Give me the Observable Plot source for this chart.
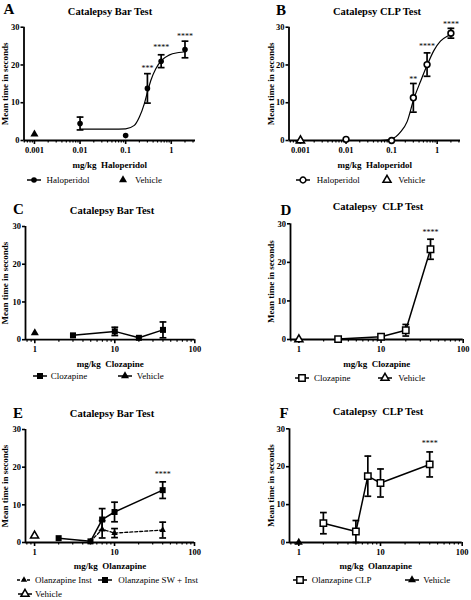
<!DOCTYPE html>
<html><head><meta charset="utf-8">
<script src="https://cdn.jsdelivr.net/npm/d3@7"></script>
<script src="https://cdn.jsdelivr.net/npm/@observablehq/plot@0.6"></script>
<style>
body{margin:0;background:#fff;}
#fig{position:relative;width:471px;height:600px;font-family:"Liberation Serif","Times New Roman",serif;color:#000;overflow:hidden;}
.abs{position:absolute;white-space:nowrap;line-height:1;}
.ttl{font-weight:bold;font-size:10.5px;transform:translate(-50%,-50%);}
.let{font-weight:bold;font-size:15px;transform:translate(-50%,-50%);}
.leg{font-size:9px;transform:translateY(-50%);}
</style></head><body><div id="fig"></div>
<script>
// ---------- DATA ----------
// Panel A: Catalepsy Bar Test, Haloperidol
const aDose = [0.01, 0.1, 0.3, 0.6, 2];
const aMean = [4.5, 1.3, 13.8, 21.0, 24.1];
const aSem  = [1.7, 0, 3.9, 1.7, 2.2];
const aVehDose = [0.001];
const aVehMean = [1.7];
const aFitDose = [0.01, 0.05, 0.1, 0.155, 0.2, 0.256, 0.3, 0.356, 0.458, 0.638, 0.89, 1.47, 2];
const aFitVal  = [3.0, 3.0, 3.1, 4.0, 6.2, 9.7, 12.8, 15.9, 19.0, 21.4, 22.6, 23.3, 23.5];
const aStarDose = [0.3, 0.6, 2];
const aStarY = [19.6, 25.2, 28.1];
const aStars = ["***", "****", "****"];

// Panel B: Catalepsy CLP Test, Haloperidol
const bDose = [0.01, 0.1, 0.3, 0.6, 2];
const bMean = [0.3, 0, 11.3, 20.1, 28.4];
const bSem  = [0, 0, 3.8, 3.1, 1.3];
const bVehDose = [0.001];
const bVehMean = [0];
const bFitDose = [0.01, 0.057, 0.1, 0.156, 0.219, 0.307, 0.43, 0.6, 0.845, 1.18, 1.66, 2.1];
const bFitVal  = [0, 0, 0.4, 2.2, 5.0, 11.0, 15.6, 19.9, 23.8, 26.3, 27.6, 28.1];
const bStarDose = [0.3, 0.6, 2];
const bStarY = [16.8, 25.4, 31.3];
const bStars = ["**", "****", "****"];

// Panel C: Catalepsy Bar Test, Clozapine
const cDose = [3, 10, 20, 40];
const cMean = [1.15, 2.2, 0.5, 2.6];
const cSem  = [0, 1.1, 0, 2.1];
const cVehDose = [1];
const cVehMean = [1.8];

// Panel D: Catalepsy CLP Test, Clozapine
const dDose = [3, 10, 20, 40];
const dMean = [0.1, 0.7, 2.4, 23.4];
const dSem  = [0, 0, 1.5, 2.6];
const dVehDose = [1];
const dVehMean = [0];
const dStarDose = [40];
const dStarY = [28.4];
const dStars = ["****"];

// Panel E: Catalepsy Bar Test, Olanzapine
const eSwDose = [2, 5, 7, 10, 40];
const eSwMean = [1.15, 0.3, 6.1, 8.1, 13.9];
const eSwSem  = [0, 0, 2.9, 2.6, 2.2];
const eInDose = [5, 7, 10, 40];
const eInMean = [0.3, 3.5, 2.5, 3.3];
const eInSem  = [0, 2.3, 1.2, 2.1];
const eVehDose = [1];
const eVehMean = [1.8];
const eStarDose = [40];
const eStarY = [18.6];
const eStars = ["****"];

// Panel F: Catalepsy CLP Test, Olanzapine
const fDose = [2, 5, 7, 10, 40];
const fMean = [5.1, 2.9, 17.5, 15.7, 20.6];
const fSem  = [2.8, 2.9, 5.3, 3.7, 3.3];
const fVehDose = [1];
const fVehMean = [0];
const fStarDose = [40];
const fStarY = [26.7];
const fStars = ["****"];

// Axis ticks
const yTicks = [0, 10, 20, 30];
const halMajor = [0.001, 0.01, 0.1, 1];
const mgMajor = [1, 10, 100];
const minorSteps = [2, 3, 4, 5, 6, 7, 8, 9];
const yTitle = "Mean time in seconds";

// ---------- HELPERS ----------
const fig = document.getElementById("fig");
const rows = (d, m, s) => d.map((x, i) => ({dose: x, mean: m[i], sem: s ? s[i] : 0, lo: m[i] - (s ? s[i] : 0), hi: m[i] + (s ? s[i] : 0)}));
const fit = (d, v) => d.map((x, i) => ({dose: x, val: v[i]}));
const stars = (d, y, t) => d.map((x, i) => ({dose: x, y: y[i], t: t[i]}));
const minorTicks = (decades, lo, hi) => decades.flatMap(p => minorSteps.map(k => k * p)).filter(v => v > lo && v < hi);
const cap = {draw(ctx, size) { const w = Math.sqrt(size / Math.PI); ctx.moveTo(-w, 0); ctx.lineTo(w, 0); }};

function errMarks(data) {
  const e = data.filter(d => d.sem > 0);
  return [
    Plot.ruleX(e, {x: "dose", y1: "lo", y2: "hi", stroke: "black", strokeWidth: 1.7}),
    Plot.dot(e, {x: "dose", y: "lo", symbol: cap, r: 3.4, stroke: "black", strokeWidth: 1.7, fill: "none"}),
    Plot.dot(e, {x: "dose", y: "hi", symbol: cap, r: 3.4, stroke: "black", strokeWidth: 1.7, fill: "none"})
  ];
}

function panel(cfg) {
  const minor = minorTicks(cfg.decades, cfg.xDomain[0], cfg.xDomain[1]);
  const svg = Plot.plot({
    width: cfg.width, height: 175,
    marginLeft: cfg.ml, marginRight: cfg.mr, marginTop: cfg.mt, marginBottom: cfg.mb,
    style: {fontFamily: '"Liberation Serif","Times New Roman",serif', fontWeight: "bold", color: "black", background: "transparent", overflow: "visible", position: "absolute", left: cfg.left + "px", top: cfg.top + "px"},
    x: {type: "log", domain: cfg.xDomain},
    y: {domain: [0, 30]},
    marks: [
      Plot.axisY({ticks: yTicks, tickSize: 3, tickPadding: 1.5, strokeWidth: 1.6, fontSize: 8.5, label: null}),
      Plot.axisY({ticks: [], tickSize: 0, label: yTitle, labelAnchor: "center", labelArrow: "none", labelOffset: cfg.ylo, fontSize: 9}),
      Plot.axisX({ticks: cfg.major, tickSize: 4, tickPadding: 2, strokeWidth: 1.6, tickFormat: d => String(d), fontSize: 8.5, label: null}),
      Plot.axisX({ticks: minor, tickSize: 2.5, strokeWidth: 1.2, tickFormat: () => "", label: null}),
      Plot.axisX({ticks: [], tickSize: 0, label: cfg.xLabel, labelAnchor: "center", labelArrow: "none", labelOffset: cfg.xlo, fontSize: 9}),
      Plot.ruleY([0], {stroke: "black", strokeWidth: 1.8}),
      Plot.ruleX([cfg.xDomain[0]], {stroke: "black", strokeWidth: 1.8}),
      ...cfg.marks,
      cfg.stars ? Plot.text(cfg.stars, {x: "dose", y: "y", text: "t", fontSize: 8, fontWeight: "normal", dy: 2}) : null
    ]
  });
  fig.appendChild(svg);
  addText(cfg.letter, "let", cfg.letterPos);
  addText(cfg.title, "ttl", cfg.titlePos);
  cfg.legend.forEach(addLegend);
}

function addText(txt, cls, [x, y]) {
  const d = document.createElement("div");
  d.className = "abs " + cls;
  d.style.left = x + "px"; d.style.top = y + "px";
  d.textContent = txt;
  fig.appendChild(d);
}

const symMap = {circle: d3.symbolCircle, square: d3.symbolSquare, triangle: d3.symbolTriangle};
function addLegend(it) {
  const s = d3.create("svg").attr("width", 20).attr("height", 12)
    .style("position", "absolute").style("left", (it.cx - 10) + "px").style("top", (it.cy - 6) + "px").style("overflow", "visible");
  if (it.line) s.append("line").attr("x1", 3).attr("x2", 17).attr("y1", 6).attr("y2", 6)
    .attr("stroke", "black").attr("stroke-width", 1.5).attr("stroke-dasharray", it.dash ? "3,2" : null);
  s.append("path").attr("transform", "translate(10,6)")
    .attr("d", d3.symbol(symMap[it.sym], it.r * it.r * Math.PI)())
    .attr("fill", it.open ? "white" : "black").attr("stroke", "black").attr("stroke-width", it.open ? 1.5 : 0);
  fig.appendChild(s.node());
  const t = document.createElement("div");
  t.className = "abs leg";
  t.style.left = it.tx + "px"; t.style.top = it.cy + "px";
  t.textContent = it.label;
  fig.appendChild(t);
}

// ---------- PANELS ----------
const A = rows(aDose, aMean, aSem), Av = rows(aVehDose, aVehMean);
panel({
  left: 0, top: 0, width: 235, ml: 23.5, mr: 40, mt: 26.7, mb: 35,
  xDomain: [0.00059, 3.4], major: halMajor, decades: [0.0001, 0.001, 0.01, 0.1, 1],
  xLabel: "mg/kg\u00a0 Haloperidol", xlo: 27.5, ylo: 22.4,
  letter: "A", letterPos: [9, 9], title: "Catalepsy Bar Test", titlePos: [110, 12],
  marks: [
    Plot.line(fit(aFitDose, aFitVal), {x: "dose", y: "val", curve: "monotone-x", strokeWidth: 1.2}),
    ...errMarks(A),
    Plot.dot(A, {x: "dose", y: "mean", symbol: "circle", r: 2.8, fill: "black"}),
    Plot.dot(Av, {x: "dose", y: "mean", symbol: "triangle", r: 3, fill: "black"})
  ],
  stars: stars(aStarDose, aStarY, aStars),
  legend: [
    {cx: 34, cy: 180, tx: 46.5, label: "Haloperidol", sym: "circle", r: 2.8, line: true},
    {cx: 123.3, cy: 180, tx: 135, label: "Vehicle", sym: "triangle", r: 3, line: false}
  ]
});

const B = rows(bDose, bMean, bSem), Bv = rows(bVehDose, bVehMean);
panel({
  left: 235, top: 0, width: 236, ml: 53.5, mr: 11, mt: 26.7, mb: 35,
  xDomain: [0.00056, 3.25], major: halMajor, decades: [0.0001, 0.001, 0.01, 0.1, 1],
  xLabel: "mg/kg\u00a0 Haloperidol", xlo: 27.5, ylo: 21.4,
  letter: "B", letterPos: [281, 10], title: "Catalepsy CLP Test", titlePos: [377, 12],
  marks: [
    Plot.line(fit(bFitDose, bFitVal), {x: "dose", y: "val", curve: "monotone-x", strokeWidth: 1.2}),
    ...errMarks(B),
    Plot.dot(B, {x: "dose", y: "mean", symbol: "circle", r: 2.9, fill: "white", stroke: "black", strokeWidth: 1.6}),
    Plot.dot(Bv, {x: "dose", y: "mean", symbol: "triangle", r: 3, fill: "white", stroke: "black", strokeWidth: 1.6})
  ],
  stars: stars(bStarDose, bStarY, bStars),
  legend: [
    {cx: 303.3, cy: 180, tx: 316.7, label: "Haloperidol", sym: "circle", r: 2.9, open: true, line: true},
    {cx: 386.7, cy: 180, tx: 398.3, label: "Vehicle", sym: "triangle", r: 3, open: true, line: false}
  ]
});

const C = rows(cDose, cMean, cSem), Cv = rows(cVehDose, cVehMean);
panel({
  left: 0, top: 200, width: 235, ml: 25, mr: 40.7, mt: 26, mb: 35.8,
  xDomain: [0.765, 100], major: mgMajor, decades: [0.1, 1, 10],
  xLabel: "mg/kg\u00a0 Clozapine", xlo: 27, ylo: 23.9,
  letter: "C", letterPos: [18.5, 208.5], title: "Catalepsy Bar Test", titlePos: [112, 211],
  marks: [
    Plot.line(C, {x: "dose", y: "mean", strokeWidth: 1.5}),
    ...errMarks(C),
    Plot.dot(C, {x: "dose", y: "mean", symbol: "square", r: 3.4, fill: "black"}),
    Plot.dot(Cv, {x: "dose", y: "mean", symbol: "triangle", r: 3, fill: "black"})
  ],
  legend: [
    {cx: 40, cy: 376, tx: 50.7, label: "Clozapine", sym: "square", r: 3.4, line: true},
    {cx: 125, cy: 376, tx: 136.7, label: "Vehicle", sym: "triangle", r: 3, line: true}
  ]
});

const D = rows(dDose, dMean, dSem), Dv = rows(dVehDose, dVehMean);
panel({
  left: 235, top: 200, width: 236, ml: 55, mr: 8.3, mt: 23.3, mb: 36,
  xDomain: [0.79, 100], major: mgMajor, decades: [0.1, 1, 10],
  xLabel: "mg/kg\u00a0 Clozapine", xlo: 27, ylo: 22.9,
  letter: "D", letterPos: [286, 209.5], title: "Catalepsy\u00a0 CLP Test", titlePos: [378, 207],
  marks: [
    Plot.line(D, {x: "dose", y: "mean", strokeWidth: 1.5}),
    ...errMarks(D),
    Plot.dot(D, {x: "dose", y: "mean", symbol: "square", r: 3.6, fill: "white", stroke: "black", strokeWidth: 1.5}),
    Plot.dot(Dv, {x: "dose", y: "mean", symbol: "triangle", r: 3, fill: "white", stroke: "black", strokeWidth: 1.5})
  ],
  stars: stars(dStarDose, dStarY, dStars),
  legend: [
    {cx: 301.7, cy: 378.3, tx: 314, label: "Clozapine", sym: "square", r: 3.6, open: true, line: true},
    {cx: 385, cy: 378.3, tx: 398.3, label: "Vehicle", sym: "triangle", r: 3, open: true, line: true}
  ]
});

const Esw = rows(eSwDose, eSwMean, eSwSem), Ein = rows(eInDose, eInMean, eInSem), Ev = rows(eVehDose, eVehMean);
panel({
  left: 0, top: 400, width: 235, ml: 25, mr: 41, mt: 29, mb: 33,
  xDomain: [0.77, 100], major: mgMajor, decades: [0.1, 1, 10],
  xLabel: "mg/kg\u00a0 Olanzapine", xlo: 26, ylo: 23.9,
  letter: "E", letterPos: [18, 412.5], title: "Catalepsy Bar Test", titlePos: [112, 414],
  marks: [
    Plot.line(Ein, {x: "dose", y: "mean", strokeWidth: 1.3, strokeDasharray: "3,2"}),
    Plot.line(Esw, {x: "dose", y: "mean", strokeWidth: 1.5}),
    ...errMarks(Ein),
    ...errMarks(Esw),
    Plot.dot(Ein, {x: "dose", y: "mean", symbol: "triangle", r: 2.4, fill: "black"}),
    Plot.dot(Esw, {x: "dose", y: "mean", symbol: "square", r: 3.4, fill: "black"}),
    Plot.dot(Ev, {x: "dose", y: "mean", symbol: "triangle", r: 3, fill: "white", stroke: "black", strokeWidth: 1.5})
  ],
  stars: stars(eStarDose, eStarY, eStars),
  legend: [
    {cx: 24, cy: 580, tx: 35, label: "Olanzapine Inst", sym: "triangle", r: 2.4, line: true, dash: true},
    {cx: 105, cy: 580, tx: 118.3, label: "Olanzapine SW + Inst", sym: "square", r: 3.4, line: true},
    {cx: 25, cy: 594.3, tx: 35, label: "Vehicle", sym: "triangle", r: 3, open: true, line: true}
  ]
});

const F = rows(fDose, fMean, fSem), Fv = rows(fVehDose, fVehMean);
panel({
  left: 235, top: 400, width: 236, ml: 54, mr: 9.3, mt: 28.3, mb: 33,
  xDomain: [0.77, 100], major: mgMajor, decades: [0.1, 1, 10],
  xLabel: "mg/kg\u00a0 Olanzapine", xlo: 26, ylo: 21.9,
  letter: "F", letterPos: [284, 413], title: "Catalepsy\u00a0 CLP Test", titlePos: [378, 412],
  marks: [
    Plot.line(F, {x: "dose", y: "mean", strokeWidth: 1.5}),
    ...errMarks(F),
    Plot.dot(F, {x: "dose", y: "mean", symbol: "square", r: 3.6, fill: "white", stroke: "black", strokeWidth: 1.5}),
    Plot.dot(Fv, {x: "dose", y: "mean", symbol: "triangle", r: 3, fill: "black"})
  ],
  stars: stars(fStarDose, fStarY, fStars),
  legend: [
    {cx: 300, cy: 580, tx: 311.7, label: "Olanzapine CLP", sym: "square", r: 3.6, open: true, line: true},
    {cx: 412, cy: 580, tx: 423.3, label: "Vehicle", sym: "triangle", r: 3, line: true}
  ]
});
</script></body></html>
